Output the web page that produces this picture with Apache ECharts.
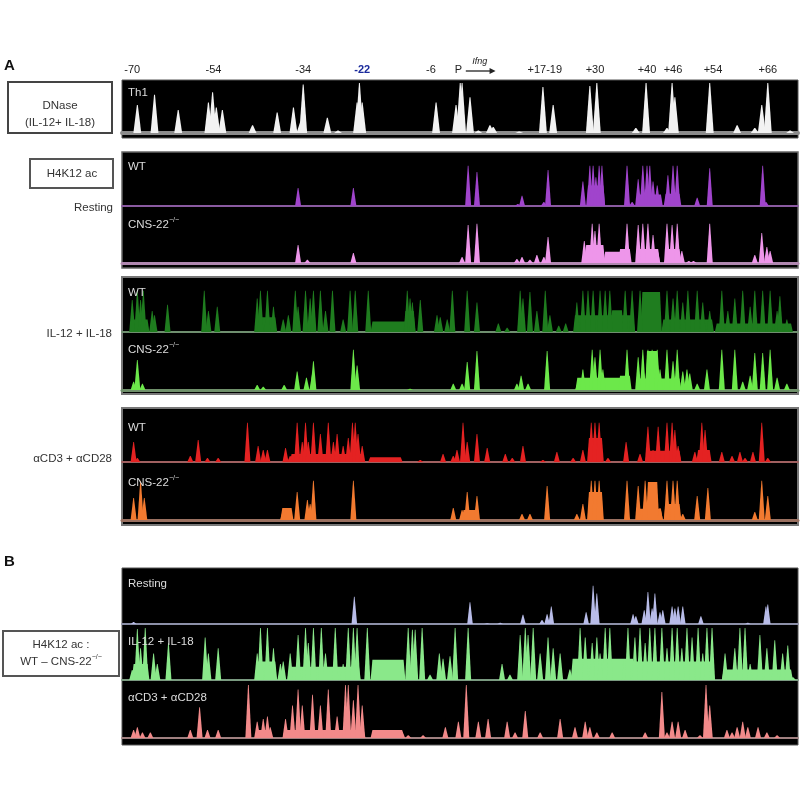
<!DOCTYPE html>
<html>
<head>
<meta charset="utf-8">
<script src="https://cdn.jsdelivr.net/npm/echarts@6/dist/echarts.min.js"></script>
<style>
  html, body { margin: 0; background: #fff; }
  #main { width: 800px; height: 800px; }
</style>
</head>
<body>
<div id="main"></div>
<script>
// locus positions in kb relative to Ifng TSS
const siteLabels = ['-70', '-54', '-34', '-22', '-6', 'P', '+17-19', '+30', '+40', '+46', '+54', '+66'];
const siteKb = [-70.8, -53.3, -34.0, -21.3, -6.5, -0.6, 18.0, 28.8, 40.0, 45.6, 54.2, 66.0];

// peaks: [kb, relative height]   blocks: [kb start, kb end, relative height]
const dnaseTh1 = [[-69.7,0.55],[-66.0,0.75],[-60.9,0.45],[-54.4,0.6],[-53.5,0.8],[-52.7,0.5],[-51.4,0.45],[-44.9,0.15],[-39.6,0.4],[-36.1,0.5],[-34.6,0.2],[-34.0,0.95],[-28.8,0.3],[-26.5,0.05],[-22.4,0.6],[-21.9,0.98],[-21.3,0.6],[-5.4,0.6],[-1.1,0.55],[-0.2,0.98],[0.2,0.98],[1.9,0.7],[3.7,0.05],[6.2,0.15],[6.9,0.12],[12.5,0.03],[17.6,0.9],[19.8,0.55],[27.7,0.92],[29.2,0.98],[37.6,0.1],[39.8,0.98],[44.3,0.1],[45.4,0.98],[46.0,0.7],[53.5,0.98],[59.4,0.15],[63.2,0.1],[64.7,0.55],[66.0,0.98],[70.8,0.05]];

const restWT = [[-35.1,0.44],[-23.2,0.44],[1.5,0.98],[3.4,0.83],[12.2,0.05],[13.1,0.25],[17.8,0.1],[18.7,0.88],[26.2,0.6],[27.7,0.98],[28.4,0.98],[29.0,0.7],[29.7,0.98],[30.3,0.98],[35.7,0.98],[36.8,0.1],[38.1,0.65],[39.1,0.98],[40.0,0.98],[40.6,0.98],[41.3,0.6],[42.2,0.5],[44.5,0.75],[45.6,0.98],[46.5,0.98],[50.8,0.2],[53.5,0.92],[64.9,0.98],[65.6,0.1]];
const restWTBlocks = [[27.3,30.6,0.5],[38.0,43.0,0.28],[44.0,47.0,0.3]];

const restKO = [[-35.1,0.45],[-33.1,0.08],[-23.2,0.25],[0.2,0.15],[1.5,0.95],[3.4,0.98],[12.0,0.1],[13.1,0.15],[14.8,0.08],[16.3,0.2],[17.8,0.15],[18.7,0.65],[26.5,0.55],[28.2,0.98],[28.8,0.8],[29.7,0.98],[35.7,0.98],[38.1,0.95],[39.1,0.98],[40.2,0.98],[41.3,0.7],[42.2,0.35],[44.3,0.98],[45.4,0.95],[46.5,0.98],[47.5,0.3],[49.0,0.05],[50.0,0.05],[53.5,0.98],[63.2,0.2],[64.7,0.75],[65.8,0.4],[66.5,0.3]];
const restKOBlocks = [[26.9,30.6,0.45],[31.0,34.2,0.28],[34.2,36.3,0.35],[38.5,42.4,0.35],[44.3,47.0,0.35]];

const ilWT = [[-70.8,0.76],[-69.7,0.98],[-69.0,0.76],[-68.4,0.98],[-66.5,0.5],[-66.0,0.4],[-63.2,0.65],[-55.3,0.98],[-54.4,0.5],[-52.5,0.6],[-43.9,0.8],[-43.2,0.98],[-41.7,0.98],[-40.4,0.6],[-38.3,0.3],[-37.2,0.4],[-35.7,0.98],[-35.1,0.6],[-33.5,0.98],[-32.5,0.8],[-31.8,0.98],[-30.3,0.98],[-29.2,0.5],[-27.7,0.98],[-25.4,0.3],[-23.9,0.98],[-22.8,0.98],[-20.0,0.98],[-11.6,0.98],[-11.0,0.8],[-10.5,0.7],[-8.8,0.76],[-5.2,0.4],[-4.5,0.35],[-3.0,0.3],[-1.9,0.98],[1.3,0.98],[3.4,0.7],[8.0,0.2],[9.9,0.1],[12.7,0.98],[13.3,0.8],[14.8,0.95],[16.3,0.5],[18.1,0.98],[19.1,0.4],[21.0,0.15],[22.5,0.2],[24.9,0.7],[26.2,0.98],[27.3,0.98],[28.4,0.98],[29.9,0.98],[31.0,0.98],[32.0,0.98],[35.3,0.98],[36.8,0.98],[38.5,0.98],[44.3,0.98],[45.6,0.8],[46.5,0.98],[47.7,0.7],[48.8,0.98],[50.8,0.98],[52.0,0.7],[53.5,0.5],[56.1,0.98],[57.4,0.5],[58.9,0.8],[60.6,0.98],[62.2,0.6],[63.2,0.98],[64.9,0.98],[66.5,0.98],[68.0,0.5],[68.6,0.85],[70.1,0.3]];
const ilWTBlocks = [[-70.5,-67.5,0.3],[-43.7,-40.0,0.35],[-19.1,-12.0,0.25],[-12.0,-10.2,0.5],[24.5,37.0,0.4],[32.5,34.6,0.52],[39.0,42.8,0.95],[43.5,54.0,0.3],[55.0,71.0,0.2]];

const ilKO = [[-70.5,0.2],[-69.7,0.73],[-68.6,0.15],[-43.9,0.12],[-42.6,0.08],[-38.1,0.12],[-35.3,0.45],[-33.3,0.3],[-32.0,0.4],[-31.8,0.7],[-23.2,0.98],[-22.4,0.6],[-11.0,0.03],[-1.7,0.15],[0.2,0.15],[1.3,0.68],[3.4,0.95],[12.0,0.15],[12.9,0.35],[14.4,0.15],[18.5,0.95],[25.2,0.2],[26.2,0.5],[28.2,0.98],[28.8,0.8],[29.9,0.98],[30.5,0.5],[35.7,0.98],[38.1,0.8],[39.1,0.98],[40.2,0.98],[41.1,0.98],[42.2,0.98],[42.8,0.5],[44.3,0.98],[45.6,0.7],[46.5,0.98],[47.7,0.45],[48.6,0.5],[49.2,0.4],[50.8,0.15],[52.9,0.5],[56.1,0.98],[58.9,0.98],[60.6,0.2],[62.2,0.35],[63.2,0.9],[64.9,0.9],[66.5,0.98],[68.0,0.3],[70.1,0.15]];
const ilKOBlocks = [[25.0,31.0,0.3],[31.0,34.2,0.3],[34.2,36.3,0.35],[38.0,47.0,0.28],[40.0,42.2,0.95]];

const cdWT = [[-70.5,0.5],[-69.7,0.1],[-58.3,0.15],[-56.6,0.55],[-54.6,0.1],[-52.3,0.1],[-46.0,0.98],[-43.7,0.4],[-42.6,0.3],[-41.7,0.3],[-37.8,0.35],[-36.8,0.15],[-35.3,0.98],[-34.2,0.5],[-33.5,0.98],[-32.9,0.5],[-31.8,0.98],[-30.3,0.7],[-28.6,0.98],[-27.5,0.5],[-26.7,0.7],[-25.4,0.4],[-24.3,0.6],[-23.4,0.98],[-22.8,0.98],[-22.2,0.7],[-21.3,0.4],[-8.8,0.05],[-3.9,0.2],[-1.7,0.15],[-0.9,0.3],[0.4,0.98],[1.3,0.5],[3.4,0.7],[5.6,0.35],[9.5,0.2],[11.0,0.1],[13.3,0.4],[17.6,0.05],[20.6,0.25],[24.1,0.1],[26.2,0.3],[28.0,0.98],[28.8,0.98],[29.7,0.98],[31.6,0.1],[35.5,0.5],[38.5,0.2],[40.2,0.88],[41.3,0.3],[42.4,0.88],[44.3,0.98],[45.4,0.98],[46.0,0.8],[46.7,0.4],[50.3,0.25],[51.8,0.98],[52.5,0.8],[56.1,0.25],[58.3,0.15],[60.0,0.25],[61.1,0.1],[62.8,0.25],[64.7,0.98],[66.0,0.1]];
const cdWTBlocks = [[-36.5,-21.5,0.2],[-19.6,-13.0,0.12],[27.5,30.3,0.6],[40.0,47.0,0.28],[51.0,53.5,0.3]];

const cdKO = [[-70.5,0.55],[-69.0,0.98],[-68.2,0.55],[-38.3,0.25],[-37.2,0.3],[-35.3,0.7],[-33.1,0.5],[-32.5,0.4],[-31.8,0.98],[-23.2,0.98],[-1.7,0.3],[0.2,0.25],[1.3,0.7],[3.4,0.6],[13.1,0.15],[14.8,0.15],[18.5,0.85],[24.9,0.15],[26.2,0.4],[28.0,0.98],[28.8,0.98],[29.7,0.98],[35.7,0.98],[38.1,0.85],[39.6,0.98],[42.8,0.3],[44.3,0.98],[45.6,0.98],[46.5,0.98],[47.7,0.15],[50.8,0.6],[53.1,0.8],[63.2,0.2],[64.7,0.98],[66.0,0.6]];
const cdKOBlocks = [[-38.5,-36.5,0.3],[0.5,3.5,0.25],[27.5,30.3,0.7],[38.0,43.0,0.28],[40.2,42.2,0.95],[44.0,47.0,0.4]];

const diffRest = [[-70.5,0.05],[-23.0,0.7],[1.9,0.56],[5.6,0.02],[8.4,0.03],[13.3,0.24],[17.4,0.1],[18.5,0.25],[19.4,0.45],[26.9,0.3],[28.4,0.98],[29.2,0.78],[37.0,0.25],[37.6,0.2],[39.4,0.35],[40.2,0.82],[41.1,0.4],[41.7,0.78],[42.8,0.3],[43.4,0.35],[45.4,0.45],[46.0,0.4],[46.7,0.45],[47.7,0.45],[51.6,0.2],[61.7,0.03],[65.6,0.45],[66.0,0.5]];

const diffIL = [[-70.8,0.19],[-69.7,0.96],[-69.0,0.6],[-68.0,0.98],[-66.2,0.5],[-65.4,0.3],[-63.0,0.7],[-55.1,0.8],[-54.4,0.5],[-52.3,0.6],[-43.9,0.5],[-43.2,0.98],[-41.7,0.98],[-40.4,0.6],[-38.9,0.3],[-38.3,0.35],[-36.8,0.5],[-35.1,0.85],[-33.5,0.98],[-32.9,0.7],[-31.8,0.98],[-30.1,0.98],[-29.2,0.5],[-27.1,0.98],[-25.4,0.3],[-24.3,0.98],[-23.2,0.98],[-22.4,0.98],[-20.2,0.98],[-11.4,0.98],[-10.5,0.95],[-9.9,0.95],[-8.4,0.98],[-6.7,0.1],[-4.7,0.5],[-3.9,0.4],[-2.4,0.45],[-1.3,0.98],[1.5,0.98],[8.8,0.3],[10.5,0.1],[12.7,0.85],[13.8,0.98],[14.4,0.85],[15.5,0.98],[17.0,0.5],[18.7,0.8],[19.8,0.6],[21.3,0.5],[23.4,0.2],[24.5,0.2],[25.6,0.98],[26.7,0.8],[28.2,0.7],[29.2,0.8],[29.9,0.5],[31.0,0.98],[32.0,0.98],[35.9,0.98],[37.4,0.8],[38.5,0.98],[39.6,0.7],[40.6,0.98],[41.7,0.98],[43.2,0.98],[44.3,0.6],[45.4,0.98],[46.5,0.98],[47.5,0.6],[48.6,0.98],[49.7,0.8],[51.0,0.98],[52.0,0.5],[52.9,0.98],[54.0,0.98],[56.8,0.5],[58.9,0.6],[60.0,0.98],[61.1,0.98],[62.2,0.3],[64.3,0.85],[65.8,0.6],[67.5,0.75],[69.2,0.5],[70.3,0.65],[71.4,0.05]];
const diffILBlocks = [[-70.5,-67.5,0.3],[-44.0,-40.0,0.35],[-37.0,-22.0,0.25],[-19.1,-12.4,0.38],[24.0,37.0,0.4],[32.7,34.8,0.3],[35.0,54.0,0.35],[56.5,71.0,0.2]];

const diffCD = [[-70.5,0.15],[-69.7,0.2],[-68.6,0.1],[-66.9,0.1],[-58.3,0.15],[-56.3,0.57],[-54.6,0.15],[-52.3,0.15],[-45.8,0.98],[-43.9,0.3],[-42.6,0.35],[-41.7,0.4],[-41.1,0.2],[-37.8,0.35],[-36.3,0.6],[-35.1,0.9],[-34.2,0.6],[-32.0,0.8],[-30.3,0.6],[-28.6,0.9],[-26.7,0.4],[-24.9,0.98],[-24.3,0.98],[-23.2,0.7],[-22.2,0.98],[-21.3,0.6],[-12.7,0.12],[-11.4,0.05],[-8.2,0.05],[-3.4,0.2],[-0.6,0.3],[1.1,0.98],[3.7,0.3],[5.8,0.35],[9.9,0.3],[11.6,0.1],[13.8,0.5],[17.0,0.1],[21.3,0.35],[24.5,0.2],[26.7,0.3],[27.7,0.2],[29.2,0.1],[32.5,0.1],[39.6,0.1],[43.2,0.85],[44.3,0.1],[45.4,0.3],[46.7,0.3],[48.2,0.15],[51.4,0.05],[52.7,0.98],[53.5,0.6],[57.2,0.15],[58.3,0.1],[59.4,0.2],[60.6,0.3],[61.7,0.2],[63.9,0.2],[65.8,0.1],[68.0,0.05]];
const diffCDBlocks = [[-44.0,-41.0,0.15],[-38.0,-21.0,0.15],[-19.1,-12.7,0.15]];

const FONT = "'Liberation Sans', Arial, sans-serif";
const X_MIN = -73, X_MAX = 72.5;

// layout of each track (pixel boxes); hw = half base width of a peak, in kb
const tracks = [
  { peaks: dnaseTh1, blocks: [],           color: '#f2f2f2', base: '#8c8c8c', baseW: 4, top: 82,  h: 51, hw: 0.85 },
  { peaks: restWT,   blocks: restWTBlocks, color: '#a044cc', base: '#8a5aa0', baseW: 2, top: 165, h: 41, hw: 0.65 },
  { peaks: restKO,   blocks: restKOBlocks, color: '#ee96ea', base: '#b088b0', baseW: 3, top: 223, h: 40, hw: 0.65 },
  { peaks: ilWT,     blocks: ilWTBlocks,   color: '#1f7d1f', base: '#6f8f6f', baseW: 2, top: 290, h: 42, hw: 0.65 },
  { peaks: ilKO,     blocks: ilKOBlocks,   color: '#6ce84a', base: '#6f906a', baseW: 3, top: 349, h: 41, hw: 0.65 },
  { peaks: cdWT,     blocks: cdWTBlocks,   color: '#e42222', base: '#a06060', baseW: 2, top: 422, h: 40, hw: 0.65 },
  { peaks: cdKO,     blocks: cdKOBlocks,   color: '#f27a30', base: '#9a7060', baseW: 3, top: 480, h: 40, hw: 0.65 },
  { peaks: diffRest, blocks: [],           color: '#b8bce8', base: '#8c90a8', baseW: 2, top: 585, h: 39, hw: 0.6 },
  { peaks: diffIL,   blocks: diffILBlocks, color: '#8ae88a', base: '#7a9a80', baseW: 2, top: 627, h: 53, hw: 0.65 },
  { peaks: diffCD,   blocks: diffCDBlocks, color: '#f28a8a', base: '#a08080', baseW: 2, top: 684, h: 54, hw: 0.65 }
];

function renderPeak(hw) {
  return function (params, api) {
    const c = api.value(0), v = api.value(1);
    const pts = [api.coord([c - hw, 0]), api.coord([c - hw * 0.12, v]), api.coord([c + hw * 0.12, v]), api.coord([c + hw, 0])];
    return { type: 'polygon', shape: { points: pts }, style: { fill: api.visual('color') } };
  };
}

function renderBlock(params, api) {
  const s = api.value(0), e = api.value(1), v = api.value(2);
  const pts = [api.coord([s - 0.4, 0]), api.coord([s, v]), api.coord([e, v]), api.coord([e + 0.4, 0])];
  return { type: 'polygon', shape: { points: pts }, style: { fill: api.visual('color') } };
}

const grids = [], xAxes = [], yAxes = [], series = [];
tracks.forEach((t, i) => {
  grids.push({ left: 122, right: 2, top: t.top, height: t.h });
  xAxes.push({
    type: 'value', gridIndex: i, min: X_MIN, max: X_MAX,
    axisLine: { show: true, onZero: false, lineStyle: { color: t.base, width: t.baseW } },
    axisTick: { show: false }, axisLabel: { show: false }, splitLine: { show: false }
  });
  yAxes.push({ type: 'value', gridIndex: i, min: 0, max: 1, show: false, splitLine: { show: false } });
  series.push({
    type: 'custom', xAxisIndex: i, yAxisIndex: i, clip: true, silent: true,
    itemStyle: { color: t.color }, encode: { x: [0, 1], y: 2 },
    renderItem: renderBlock, data: t.blocks
  });
  series.push({
    type: 'custom', xAxisIndex: i, yAxisIndex: i, clip: true, silent: true,
    itemStyle: { color: t.color }, encode: { x: 0, y: 1 },
    renderItem: renderPeak(t.hw), data: t.peaks
  });
});

function box(x, y, w, h, fill, stroke, lw) {
  return { type: 'rect', z: -10, shape: { x: x, y: y, width: w, height: h }, style: { fill: fill, stroke: stroke, lineWidth: lw } };
}
function txt(x, y, text, opts) {
  opts = opts || {};
  return {
    type: 'text', z: 50, x: x, y: y,
    style: {
      text: text, fill: opts.color || '#333',
      font: (opts.italic ? 'italic ' : '') + (opts.weight || 'normal') + ' ' + (opts.size || 11.5) + 'px ' + FONT,
      textAlign: opts.align || 'left', textVerticalAlign: 'middle', rich: opts.rich
    }
  };
}
const koRich = {
  a: { fontSize: 11.5, fontFamily: FONT, fill: '#dcdcdc' },
  s: { fontSize: 7, fontFamily: FONT, fill: '#dcdcdc', verticalAlign: 'top', lineHeight: 16 }
};
const koRichDark = {
  a: { fontSize: 11.5, fontFamily: FONT, fill: '#333' },
  s: { fontSize: 7, fontFamily: FONT, fill: '#333', verticalAlign: 'top', lineHeight: 16 }
};

const staticGraphics = [
  // black track panels
  box(122, 80, 676, 58, '#000', '#555', 1),
  box(122, 152, 676, 116, '#000', '#666', 1.5),
  box(122, 277, 676, 117, '#000', '#777', 2),
  box(122, 408, 676, 117, '#000', '#777', 2),
  box(122, 568, 676, 177, '#000', '#555', 1),
  // label boxes
  box(8, 82, 104, 51, '#fff', '#444', 2),
  box(30, 159, 83, 29, '#fff', '#555', 2),
  box(3, 631, 116, 45, '#fff', '#555', 2),
  txt(4, 66, 'A', { size: 15, weight: 'bold', color: '#111' }),
  txt(4, 562, 'B', { size: 15, weight: 'bold', color: '#111' }),
  txt(60, 106, 'DNase', { align: 'center' }),
  txt(60, 123, '(IL-12+ IL-18)', { align: 'center' }),
  txt(72, 174, 'H4K12 ac', { align: 'center' }),
  txt(113, 208, 'Resting', { align: 'right' }),
  txt(112, 334, 'IL-12 + IL-18', { align: 'right' }),
  txt(112, 459, '\u03b1CD3 + \u03b1CD28', { align: 'right' }),
  txt(61, 645, 'H4K12 ac :', { align: 'center' }),
  txt(61, 662, '{a|WT \u2013 CNS-22}{s|\u2212/\u2212}', { align: 'center', rich: koRichDark }),
  // in-panel labels
  txt(128, 93, 'Th1', { color: '#dcdcdc' }),
  txt(128, 167, 'WT', { color: '#dcdcdc' }),
  txt(128, 225, '{a|CNS-22}{s|\u2212/\u2212}', { rich: koRich, color: '#dcdcdc' }),
  txt(128, 293, 'WT', { color: '#dcdcdc' }),
  txt(128, 350, '{a|CNS-22}{s|\u2212/\u2212}', { rich: koRich, color: '#dcdcdc' }),
  txt(128, 428, 'WT', { color: '#dcdcdc' }),
  txt(128, 483, '{a|CNS-22}{s|\u2212/\u2212}', { rich: koRich, color: '#dcdcdc' }),
  txt(128, 584, 'Resting', { color: '#dcdcdc' }),
  txt(128, 642, 'IL-12 + IL-18', { color: '#dcdcdc' }),
  txt(128, 698, '\u03b1CD3 + \u03b1CD28', { color: '#dcdcdc' })
];

const chart = echarts.init(document.getElementById('main'), null, { renderer: 'canvas' });
const option = {
  backgroundColor: '#fff',
  animation: false,
  grid: grids,
  xAxis: xAxes,
  yAxis: yAxes,
  series: series,
  graphic: { elements: staticGraphics }
};
chart.setOption(option);

// site labels above the DNase track, placed through the track's own x scale
const siteGraphics = siteLabels.map((s, i) => {
  const x = chart.convertToPixel({ xAxisIndex: 0 }, siteKb[i]);
  const isCns22 = s === '-22';
  return txt(x, 70, s, { align: 'center', color: isCns22 ? '#1a2a9c' : '#222', weight: isCns22 ? 'bold' : 'normal', size: 11 });
});
const aStart = chart.convertToPixel({ xAxisIndex: 0 }, 1.0);
const aEnd = chart.convertToPixel({ xAxisIndex: 0 }, 7.4);
siteGraphics.push(
  { type: 'line', z: 50, shape: { x1: aStart, y1: 71, x2: aEnd - 4, y2: 71 }, style: { stroke: '#222', lineWidth: 1.3 } },
  { type: 'polygon', z: 50, shape: { points: [[aEnd - 6, 68], [aEnd, 71], [aEnd - 6, 74]] }, style: { fill: '#222' } },
  txt((aStart + aEnd) / 2 - 1, 61, 'Ifng', { align: 'center', italic: true, size: 9, color: '#222' })
);
chart.setOption({ graphic: { elements: staticGraphics.concat(siteGraphics) } });
</script>
</body>
</html>
